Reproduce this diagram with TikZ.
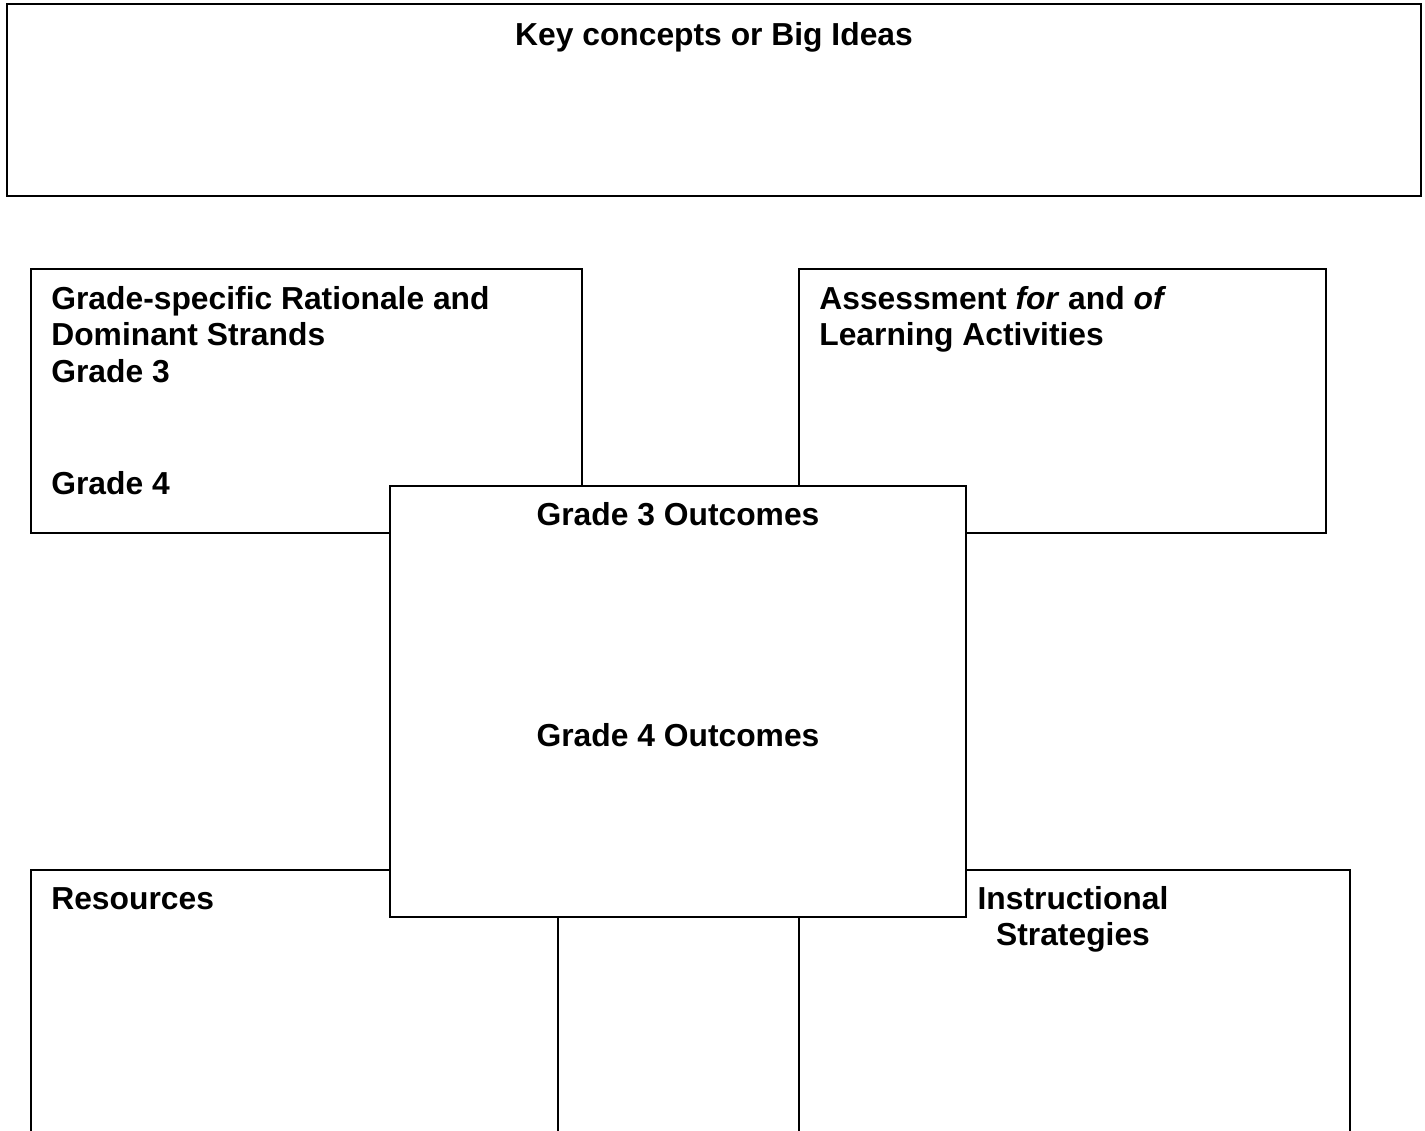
\documentclass[tikz,border=0pt]{standalone}
\usepackage{fontspec}
\setmainfont{Liberation Sans}
\usetikzlibrary{fit}
\tikzset{
  panel/.style={draw, line width=1.2pt, fill=white, inner sep=0pt, outer sep=0pt},
  heading/.style={font=\fontsize{18.1pt}{20.8pt}\selectfont\bfseries, inner sep=0pt},
}
\begin{document}
\begin{tikzpicture}[x=0.02cm, y=-0.02cm]
  \useasboundingbox (0,0) rectangle (1425,1130);
  \clip (0,0) rectangle (1425,1130);
  % outer boxes
  \node[panel, fit={(7,4) (1421,196)}] (keybox) {};
  \node[panel, fit={(31,269) (582,533)}] (rationale) {};
  \node[panel, fit={(799,269) (1326,533)}] (assess) {};
  \node[panel, fit={(31,870) (558,1200)}] (resources) {};
  \node[panel, fit={(799,870) (1350,1200)}] (strategies) {};
  % centre box on top
  \node[panel, fit={(390,486) (966,917)}] (outcomes) {};
  % headings
  \node[heading, anchor=base] (keyT) at (714,45.5) {Key concepts or Big Ideas};
  \node[heading, anchor=base west] (ratT1) at (51,309.5) {Grade-specific Rationale and};
  \node[heading, anchor=base west] (ratT2) at (51,345.5) {Dominant Strands};
  \node[heading, anchor=base west] (ratG3) at (51,382) {Grade 3};
  \node[heading, anchor=base west] (ratG4) at (51,494.5) {Grade 4};
  \node[heading, anchor=base west] (assT1) at (819,309.5) {Assessment \textit{for} and \textit{of}};
  \node[heading, anchor=base west] (assT2) at (819,345.5) {Learning Activities};
  \node[heading, anchor=base] (outG3) at (678,525.5) {Grade 3 Outcomes};
  \node[heading, anchor=base] (outG4) at (678,746.5) {Grade 4 Outcomes};
  \node[heading, anchor=base west] (resT) at (51,909.5) {Resources};
  \node[heading, anchor=base] (strT1) at (1073,909.5) {Instructional};
  \node[heading, anchor=base] (strT2) at (1073,945.5) {Strategies};
\end{tikzpicture}
\end{document}
